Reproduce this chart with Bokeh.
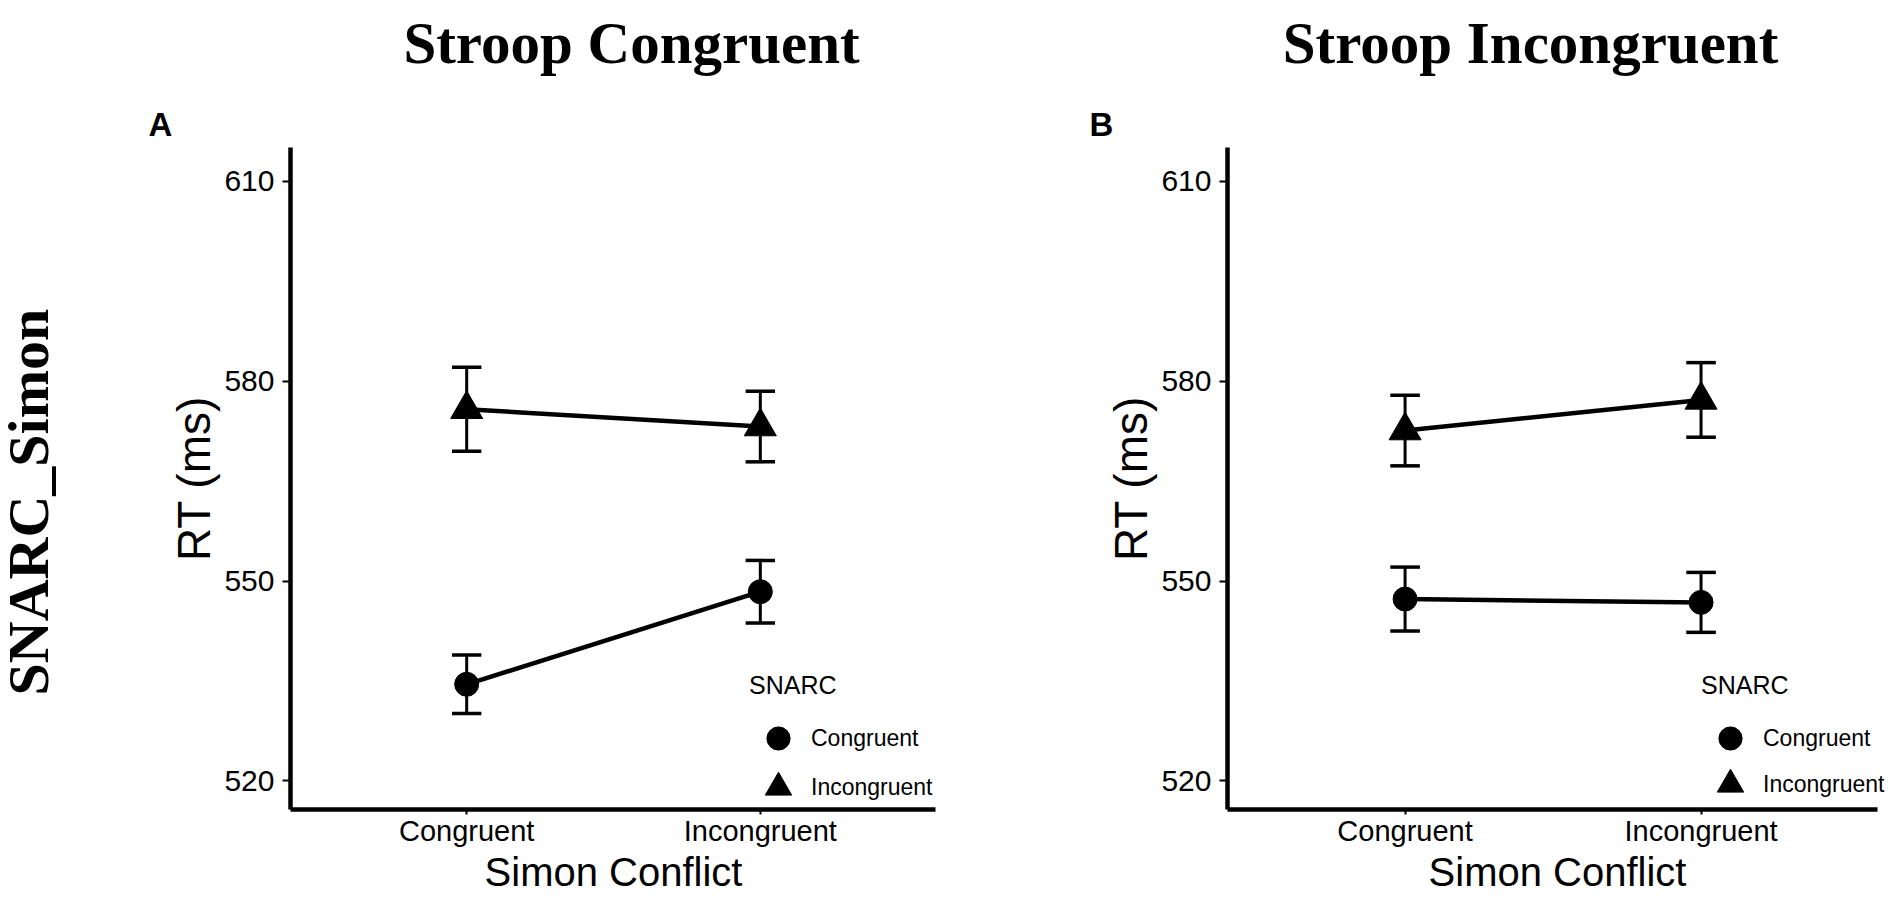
import math
from bokeh.plotting import figure
from bokeh.models import Range1d, FixedTicker, Label, Legend, LegendItem, ColumnDataSource
from bokeh.layouts import row, column
from bokeh.core.properties import value
from bokeh.embed import file_html
from bokeh.resources import INLINE

# ---------------- data ----------------
simon_levels = ["Congruent", "Incongruent"]
snarc_levels = ["Congruent", "Incongruent"]
panel_titles = ["Stroop Congruent", "Stroop Incongruent"]
panel_tags = ["A", "B"]
row_label = "SNARC_Simon"
x_title = "Simon Conflict"
y_title = "RT (ms)"
y_ticks = [520, 550, 580, 610]

# Panel A: Stroop Congruent
a_snarc_cong_mean = [534.5, 548.4]
a_snarc_cong_se = [4.4, 4.7]
a_snarc_incong_mean = [575.8, 573.2]
a_snarc_incong_se = [6.3, 5.3]

# Panel B: Stroop Incongruent
b_snarc_cong_mean = [547.3, 546.8]
b_snarc_cong_se = [4.8, 4.5]
b_snarc_incong_mean = [572.6, 577.2]
b_snarc_incong_se = [5.3, 5.6]

SANS = "Liberation Sans"
SERIF = "Liberation Serif"
HDR_H = 144
PANEL_H = 761
TOP_B = 3
FRAME_H = 662
BOT_B = PANEL_H - TOP_B - FRAME_H
STRIP_W = 70


def blank_fig(width, height, top=0, bottom=0):
    f = figure(width=width, height=height, x_axis_type=None, y_axis_type=None,
               x_range=Range1d(0, width), y_range=Range1d(0, height - top - bottom),
               output_backend="svg", toolbar_location=None, min_border=0,
               min_border_top=top, min_border_bottom=bottom)
    f.outline_line_color = None
    return f


def make_panel(cong_mean, cong_se, incong_mean, incong_se,
               width, left, right, x_range, y_range, geo):
    p = figure(width=width, height=PANEL_H,
               x_range=Range1d(*x_range), y_range=Range1d(*y_range),
               output_backend="svg", toolbar_location=None,
               min_border_left=left, min_border_right=right,
               min_border_top=TOP_B, min_border_bottom=BOT_B)
    p.xgrid.visible = False
    p.ygrid.visible = False
    p.outline_line_color = None

    xpos = [i + 1 for i in range(len(simon_levels))]
    for ax in (p.xaxis[0], p.yaxis[0]):
        ax.axis_line_width = 4.5
        ax.axis_line_color = "black"
        ax.major_tick_line_width = 2
        ax.major_tick_line_color = "black"
        ax.major_tick_in = 0
        ax.minor_tick_line_color = None
        ax.major_label_text_font = SANS
        ax.major_label_text_color = "black"
        ax.axis_label_text_font = SANS
        ax.axis_label_text_font_style = "normal"
        ax.axis_label_text_color = "black"
    p.xaxis.ticker = FixedTicker(ticks=xpos)
    p.xaxis.major_label_overrides = {x: lab for x, lab in zip(xpos, simon_levels)}
    p.xaxis.bounds = (0.4, 2.595)
    p.xaxis.major_tick_out = 5
    p.xaxis.major_label_text_font_size = "29px"
    p.xaxis.major_label_standoff = 0
    p.xaxis.axis_label = x_title
    p.xaxis.axis_label_text_font_size = "40px"
    p.xaxis.axis_label_standoff = 0
    p.yaxis.ticker = FixedTicker(ticks=y_ticks)
    p.yaxis.major_tick_out = 8
    p.yaxis.major_label_text_font_size = "30px"
    p.yaxis.axis_label = y_title
    p.yaxis.axis_label_text_font_size = "46px"
    p.yaxis.major_label_standoff = 8
    p.yaxis.axis_label_standoff = 1

    renderers = []
    for means, ses, marker, size in ((cong_mean, cong_se, "circle", 24),
                                     (incong_mean, incong_se, "triangle", 32)):
        src = ColumnDataSource(dict(
            x=xpos, y=means,
            lo=[m - s for m, s in zip(means, ses)],
            hi=[m + s for m, s in zip(means, ses)],
            xl=[x - 0.05 for x in xpos],
            xr=[x + 0.05 for x in xpos],
        ))
        p.segment(x0="x", y0="lo", x1="x", y1="hi", source=src, line_width=3, line_color="black")
        p.segment(x0="xl", y0="lo", x1="xr", y1="lo", source=src, line_width=3.5, line_color="black")
        p.segment(x0="xl", y0="hi", x1="xr", y1="hi", source=src, line_width=3.5, line_color="black")
        p.line(x="x", y="y", source=src, line_width=4.5, line_color="black")
        r = p.scatter(x="x", y="y", source=src, marker=marker, size=size,
                      fill_color="black", line_color="black")
        renderers.append(r)

    common = dict(padding=0, margin=0, spacing=0, background_fill_alpha=0,
                  border_line_alpha=0, label_text_font=SANS, label_text_font_size="23px",
                  label_text_color="black", label_height=20, label_width=20)
    leg1 = Legend(items=[LegendItem(label=value(snarc_levels[0]), renderers=[renderers[0]])],
                  title="SNARC", title_text_font=SANS, title_text_font_size="25px",
                  title_text_font_style="normal", title_text_color="black",
                  title_standoff=9, location=geo["leg1"],
                  glyph_width=58, glyph_height=58, label_standoff=4, **common)
    leg2 = Legend(items=[LegendItem(label=value(snarc_levels[1]), renderers=[renderers[1]])],
                  location=geo["leg2"], glyph_width=66, glyph_height=66,
                  label_standoff=0, **common)
    p.add_layout(leg1)
    p.add_layout(leg2)
    return p


# header strip with panel titles and tags
hdr = blank_fig(1888, HDR_H)
for txt, cx in zip(panel_titles, (631, 1530)):
    hdr.add_layout(Label(x=cx, y=102, x_units="screen", y_units="screen",
                         text=txt, text_font=SERIF, text_font_style="bold",
                         text_font_size="59px", text_color="black",
                         text_align="center", text_baseline="alphabetic"))
for txt, lx in zip(panel_tags, (148, 1089)):
    hdr.add_layout(Label(x=lx, y=20, x_units="screen", y_units="screen",
                         text=txt, text_font=SANS, text_font_style="bold",
                         text_font_size="33px", text_color="black",
                         text_align="left", text_baseline="alphabetic"))

# left strip with the row label (rotated, reading upwards from its start point);
# its frame is aligned with the panel frames, so y is measured from the panels' x axis
strip = blank_fig(STRIP_W, PANEL_H, top=TOP_B, bottom=BOT_B)
strip.text(x=[28], y=[114], text=[row_label], angle=math.pi / 2,
           text_font=value(SERIF), text_font_style="bold", text_font_size="58px",
           text_color="black", text_align="left", text_baseline="alphabetic")

pA = make_panel(a_snarc_cong_mean, a_snarc_cong_se, a_snarc_incong_mean, a_snarc_incong_se,
                width=992 - STRIP_W, left=290 - STRIP_W, right=56,
                x_range=(0.4, 2.6), y_range=(515.7, 615.1),
                geo=dict(leg1=(459, 42), leg2=(455, -11)))
pB = make_panel(b_snarc_cong_mean, b_snarc_cong_se, b_snarc_incong_mean, b_snarc_incong_se,
                width=896, left=235, right=1,
                x_range=(0.4, 2.63), y_range=(515.7, 615.1),
                geo=dict(leg1=(474, 42), leg2=(470, -8)))

layout = column(hdr, row(strip, pA, pB))
open("out.html", "w").write(file_html(layout, INLINE))
